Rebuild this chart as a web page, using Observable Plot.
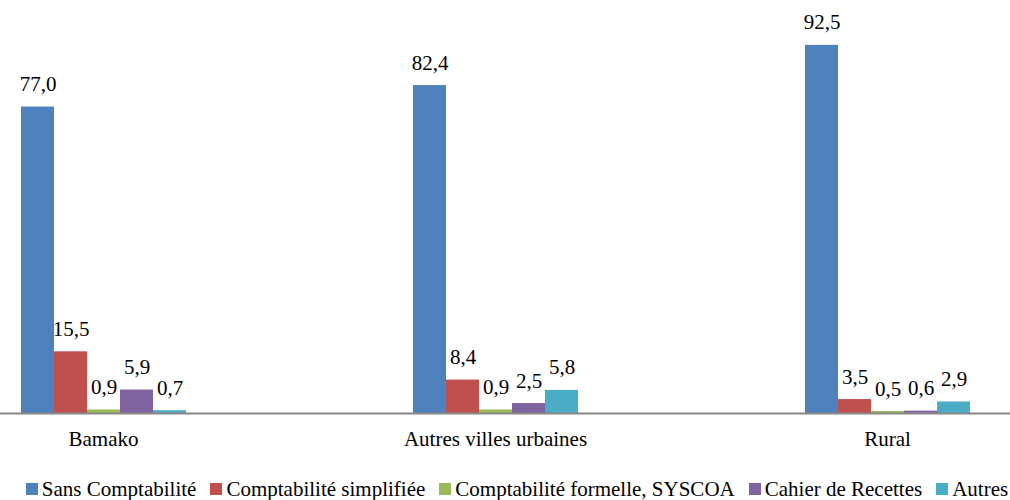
<!DOCTYPE html>
<html>
<head>
<meta charset="utf-8">
<script src="https://cdn.jsdelivr.net/npm/d3@7"></script>
<script src="https://cdn.jsdelivr.net/npm/@observablehq/plot@0.6"></script>
<style>
  html, body { margin: 0; padding: 0; background: #fff; }
  body { width: 1010px; font-family: "Liberation Serif", "Times New Roman", Times, "DejaVu Serif", serif; }
  #legend { display: flex; justify-content: center; align-items: center; font-size: 21px; line-height: 24px; color: #000; height: 24px; padding-left: 24px; }
  .item { display: flex; align-items: center; margin-right: 14px; white-space: nowrap; }
  .item:last-child { margin-right: 0; }
  .sw { width: 12px; height: 12px; margin-right: 4px; }
</style>
</head>
<body>
<div id="chart"></div>
<div id="legend"></div>
<script>
const groups = ["Bamako", "Autres villes urbaines", "Rural"];
const series = ["Sans Comptabilité", "Comptabilité simplifiée", "Comptabilité formelle, SYSCOA", "Cahier de Recettes", "Autres"];
const colors = ["#4F81BD", "#C0504D", "#9BBB59", "#8064A2", "#4BACC6"];
const sansComptabilite = [77.0, 82.4, 92.5];
const comptaSimplifiee = [15.5, 8.4, 3.5];
const comptaFormelle = [0.9, 0.9, 0.5];
const cahierRecettes = [5.9, 2.5, 0.6];
const autres = [0.7, 5.8, 2.9];

const seriesValues = [sansComptabilite, comptaSimplifiee, comptaFormelle, cahierRecettes, autres];
const data = [];
groups.forEach((g, gi) => series.forEach((s, si) => data.push({group: g, series: s, value: seriesValues[si][gi]})));

const fmt = v => v.toFixed(1).replace(".", ",");
const serif = "'Liberation Serif', 'Times New Roman', Times, 'DejaVu Serif', serif";

const chart = Plot.plot({
  width: 1010,
  height: 477,
  marginTop: 15,
  marginBottom: 64,
  marginLeft: 8,
  marginRight: 23,
  style: {fontFamily: serif, fontSize: "21px", color: "#000", background: "#fff"},
  fx: {domain: groups, range: [-93, 1083], paddingInner: 0, paddingOuter: 0, label: null},
  x: {domain: series, paddingInner: 0, paddingOuter: 3.265, axis: null},
  y: {domain: [0, 100], axis: null},
  color: {domain: series, range: colors},
  marks: [
    Plot.barY(data, {fx: "group", x: "series", y: "value", fill: "series", inset: 0}),
    Plot.text(data, {fx: "group", x: "series", y: "value", text: d => fmt(d.value), lineAnchor: "bottom", dy: -16, fontSize: 21, fontFamily: serif, fill: "#000"}),
    Plot.frame({anchor: "bottom", facet: "super", stroke: "#888", strokeWidth: 2}),
    Plot.axisFx({anchor: "bottom", tickSize: 0, tickPadding: 18, fontSize: 21, fontFamily: serif, label: null})
  ]
});
document.getElementById("chart").appendChild(chart);

const legend = document.getElementById("legend");
series.forEach((s, i) => {
  const item = document.createElement("div");
  item.className = "item";
  const sw = document.createElement("span");
  sw.className = "sw";
  sw.style.background = colors[i];
  const t = document.createElement("span");
  t.textContent = s;
  item.appendChild(sw);
  item.appendChild(t);
  legend.appendChild(item);
});
</script>
</body>
</html>
